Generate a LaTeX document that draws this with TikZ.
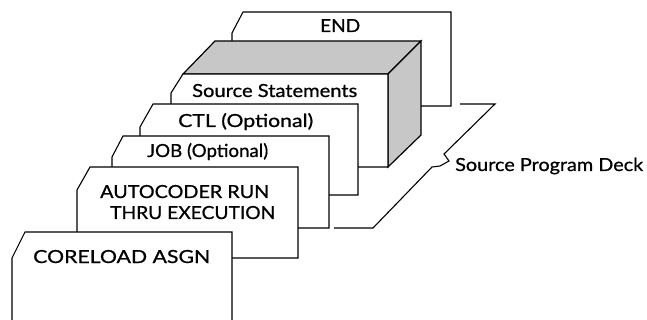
\documentclass[tikz,border=0pt]{standalone}
\usepackage{fontspec}
\setmainfont{Lato}[FakeBold=0.7]
\usepackage{graphicx}
\newcommand\fitw[2]{\resizebox{#1}{\height}{#2}}
\begin{document}
\begin{tikzpicture}[x=1pt,y=-1pt,
  card/.style={draw=black, fill=white, line width=1.1pt, line join=miter},
  shadeface/.style={fill=black!22, draw=black, line width=1.2pt, line join=miter},
  lbl/.style={font=\fontsize{18}{18}\selectfont, inner sep=0pt, anchor=base west}]
\useasboundingbox (0,0) rectangle (647,320);
\begin{scope}
\clip (0,0) rectangle (647,320);
% END card
\draw[card] (243,12) -- (451,12) -- (451,106) -- (232,106) -- (232,33) -- cycle;
% source statements block
\draw[shadeface] (183,74) -- (388,74) -- (421,41) -- (215,41) -- cycle;
\draw[shadeface] (388,74) -- (421,41) -- (421,135) -- (388,167) -- cycle;
\draw[card] (183,74) -- (388,74) -- (388,167) -- (171,167) -- (171,93) -- cycle;
% CTL
\draw[card] (153,104) -- (358,104) -- (358,195) -- (140,195) -- (140,127) -- cycle;
% JOB
\draw[card] (123,136) -- (329,136) -- (329,228) -- (112,228) -- (112,157) -- cycle;
% AUTOCODER
\draw[card] (90,167) -- (298,167) -- (298,258) -- (77,258) -- (77,190) -- cycle;
% CORELOAD
\draw[card] (25,232) -- (232,232) -- (232,340) -- (12,340) -- (12,258) -- cycle;
\end{scope}
% labels
\node[lbl] (endt) at (320,32) {\fitw{40pt}{END}};
\node[lbl] (src) at (192,97) {\fitw{165pt}{Source Statements}};
\node[lbl] (ctl) at (178,127) {\fitw{135pt}{CTL (Optional)}};
\node[lbl] (job) at (147,157) {\fitw{121pt}{JOB (Optional)}};
\node[lbl] (auto1) at (100,198) {\fitw{169pt}{AUTOCODER RUN}};
\node[lbl] (auto2) at (110,219) {\fitw{165pt}{THRU EXECUTION}};
\node[lbl] (core) at (33,263) {\fitw{177pt}{CORELOAD ASGN}};
\node[lbl] (deck) at (455,171) {\fitw{188pt}{Source Program Deck}};
% bracket
\coordinate (b1) at (334,228);
\coordinate (b2) at (373,228);
\coordinate (b3) at (432,167);
\coordinate (b4) at (440,166);
\coordinate (b5) at (449,161);
\coordinate (b6) at (444,154);
\coordinate (b7) at (495,104);
\coordinate (b8) at (460,104);
\draw[line width=1.1pt, line join=miter] (b1) -- (b2) -- (b3) -- (b4) -- (b5) -- (b6) -- (b7) -- (b8);
\end{tikzpicture}
\end{document}
